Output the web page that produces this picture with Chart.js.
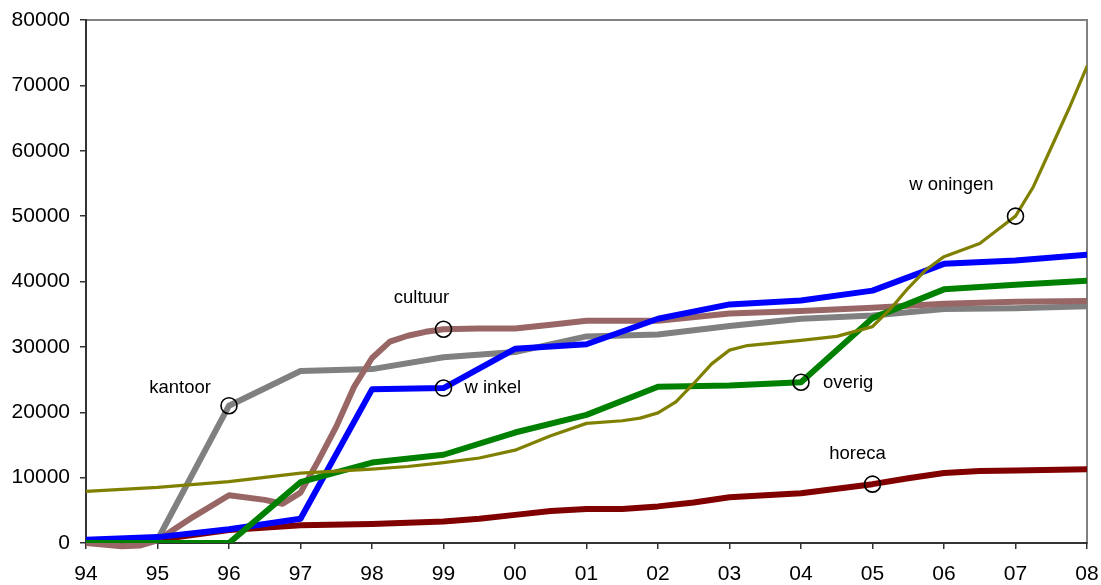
<!DOCTYPE html>
<html>
<head>
<meta charset="utf-8">
<title>Vloeroppervlak per functie</title>
<script src="https://cdn.jsdelivr.net/npm/chart.js@4/dist/chart.umd.min.js"></script>
<style>
  html, body { margin: 0; padding: 0; background: #fff; }
  #wrap { width: 1101px; height: 585px; }
</style>
</head>
<body>
<div id="wrap"><canvas id="floorChart" width="1101" height="585"></canvas></div>
<script>
// year ticks, 0 = 1994 ... 14 = 2008
const yearLabels = ['94', '95', '96', '97', '98', '99', '00', '01', '02', '03', '04', '05', '06', '07', '08'];
const years = [0, 1, 2, 3, 4, 5, 6, 7, 8, 9, 10, 11, 12, 13, 14];

// yearly series
const kantoorValues = [0, 500, 21000, 26300, 26600, 28400, 29200, 31600, 31900, 33200, 34300, 34800, 35800, 35900, 36200];
const winkelValues = [500, 900, 2100, 3700, 23500, 23700, 29700, 30400, 34300, 36500, 37100, 38600, 42700, 43200, 44100];
const overigValues = [0, 0, 0, 9300, 12300, 13500, 16900, 19600, 23900, 24100, 24600, 34400, 38800, 39500, 40100];

// series with sub-year points
const cultuurX = [0, 0.5, 0.75, 1, 1.25, 1.5, 2, 2.5, 2.75, 3, 3.25, 3.5, 3.75, 4, 4.25, 4.5, 4.75, 5, 5.5, 6, 6.5, 7, 8, 9, 10, 11, 12, 13, 14];
const cultuurY = [0, -500, -400, 400, 2200, 4000, 7300, 6600, 6000, 7700, 12600, 17800, 23900, 28300, 30800, 31700, 32300, 32700, 32800, 32800, 33400, 34000, 34000, 35100, 35500, 36000, 36600, 36900, 37000];

const horecaX = [0, 1, 2, 3, 4, 5, 5.5, 6, 6.5, 7, 7.5, 8, 8.5, 9, 10, 10.5, 11, 11.5, 12, 12.5, 13, 14];
const horecaY = [0, 500, 2000, 2700, 2900, 3300, 3700, 4300, 4900, 5200, 5200, 5600, 6200, 7000, 7600, 8300, 9000, 9900, 10700, 11000, 11100, 11300];

const woningenX = [0, 1, 2, 3, 4, 4.5, 5, 5.5, 6, 6.5, 7, 7.5, 7.75, 8, 8.25, 8.5, 8.75, 9, 9.25, 10, 10.5, 11, 11.25, 11.5, 11.75, 12, 12.5, 12.75, 13, 13.25, 13.5, 13.75, 14];
const woningenY = [7900, 8500, 9400, 10700, 11300, 11700, 12300, 13000, 14200, 16400, 18300, 18700, 19100, 19900, 21600, 24400, 27400, 29500, 30200, 31000, 31600, 33100, 35800, 39000, 41800, 43800, 45800, 47900, 50000, 54500, 60500, 66500, 72900];

// labelled points: series name and the x of the circled point
const markerNames = ['kantoor', 'cultuur', 'w inkel', 'w oningen', 'overig', 'horeca'];
const markerX = [2, 5, 5, 13, 10, 11];

function pairs(xs, ys) {
  return xs.map((x, i) => ({ x: x, y: ys[i] }));
}
function pointAt(xs, ys, x) {
  return ys[xs.indexOf(x)];
}

const markerY = [
  pointAt(years, kantoorValues, 2),
  pointAt(cultuurX, cultuurY, 5),
  pointAt(years, winkelValues, 5),
  pointAt(woningenX, woningenY, 13),
  pointAt(years, overigValues, 10),
  pointAt(horecaX, horecaY, 11)
];

const FONT = '"Liberation Sans", Arial, Helvetica, sans-serif';

// text placement around each circle: dx, dy, alignment
const labelPlacement = {
  'kantoor':   { dx: -18, dy: -18, align: 'right' },
  'cultuur':   { dx: -22, dy: -31, align: 'center' },
  'w inkel':   { dx: 21,  dy: 0,   align: 'left' },
  'w oningen': { dx: -22, dy: -31, align: 'right' },
  'overig':    { dx: 22,  dy: 1,   align: 'left' },
  'horeca':    { dx: -15, dy: -30, align: 'center' }
};

const markerLabels = {
  id: 'markerLabels',
  afterDatasetsDraw(chart) {
    const { ctx, scales } = chart;
    ctx.save();
    ctx.font = '18.5px ' + FONT;
    ctx.fillStyle = '#000';
    ctx.textBaseline = 'middle';
    markerNames.forEach((name, i) => {
      const p = labelPlacement[name];
      const px = scales.x.getPixelForValue(markerX[i]);
      const py = scales.y.getPixelForValue(markerY[i]);
      ctx.textAlign = p.align;
      ctx.fillText(name, px + p.dx, py + p.dy);
    });
    ctx.restore();
  }
};

// gray frame on top and right, axes draw their own dark lines over it
const plotFrame = {
  id: 'plotFrame',
  beforeDraw(chart) {
    const { ctx, chartArea: a } = chart;
    ctx.save();
    ctx.strokeStyle = '#808080';
    ctx.lineWidth = 2;
    ctx.strokeRect(a.left, a.top, a.right - a.left, a.bottom - a.top);
    ctx.restore();
  }
};

function lineSet(label, data, color, width) {
  return {
    label: label,
    data: data,
    borderColor: color,
    backgroundColor: color,
    borderWidth: width,
    pointRadius: 0,
    fill: false,
    tension: 0
  };
}

// cultuur dips just under zero, let it show below the axis line
const cultuurSet = lineSet('cultuur', pairs(cultuurX, cultuurY), '#996666', 6);
cultuurSet.clip = { left: 0, top: 0, right: 0, bottom: 8 };

const datasets = [
  {
    label: 'markers',
    type: 'scatter',
    data: pairs(markerX, markerY),
    showLine: false,
    pointRadius: 8,
    pointBorderWidth: 1.6,
    pointBorderColor: '#000',
    pointBackgroundColor: 'rgba(0,0,0,0)'
  },
  lineSet('woningen', pairs(woningenX, woningenY), '#808000', 3.2),
  lineSet('overig', pairs(years, overigValues), '#008000', 6),
  lineSet('winkel', pairs(years, winkelValues), '#0000FF', 6),
  lineSet('horeca', pairs(horecaX, horecaY), '#800000', 6),
  cultuurSet,
  lineSet('kantoor', pairs(years, kantoorValues), '#808080', 6)
];

const tickFont = { family: FONT, size: 21 };

new Chart(document.getElementById('floorChart'), {
  type: 'line',
  data: { datasets: datasets },
  options: {
    responsive: false,
    animation: false,
    devicePixelRatio: 1,
    layout: { padding: { left: 0, right: 14, top: 20, bottom: 0 } },
    plugins: {
      legend: { display: false },
      tooltip: { enabled: false }
    },
    elements: {
      line: { borderJoinStyle: 'round', borderCapStyle: 'round' }
    },
    scales: {
      x: {
        type: 'linear',
        min: 0,
        max: 14,
        afterFit(scale) {
          scale.height = 42;
          scale.paddingLeft = 0;
          scale.paddingRight = 0;
        },
        ticks: {
          stepSize: 1,
          autoSkip: false,
          maxRotation: 0,
          padding: 13,
          color: '#000',
          font: tickFont,
          callback: (v) => yearLabels[v]
        },
        grid: { drawOnChartArea: false, drawTicks: true, tickLength: 6, color: '#333', lineWidth: 1.5 },
        border: { display: true, color: '#333', width: 2 }
      },
      y: {
        min: 0,
        max: 80000,
        afterFit(scale) {
          scale.width = 86;
          scale.paddingTop = 0;
          scale.paddingBottom = 0;
        },
        ticks: {
          stepSize: 10000,
          padding: 10,
          color: '#000',
          font: tickFont,
          callback: (v) => String(v)
        },
        grid: { drawOnChartArea: false, drawTicks: true, tickLength: 6, color: '#333', lineWidth: 1.5 },
        border: { display: true, color: '#333', width: 2 }
      }
    }
  },
  plugins: [plotFrame, markerLabels]
});
</script>
</body>
</html>
